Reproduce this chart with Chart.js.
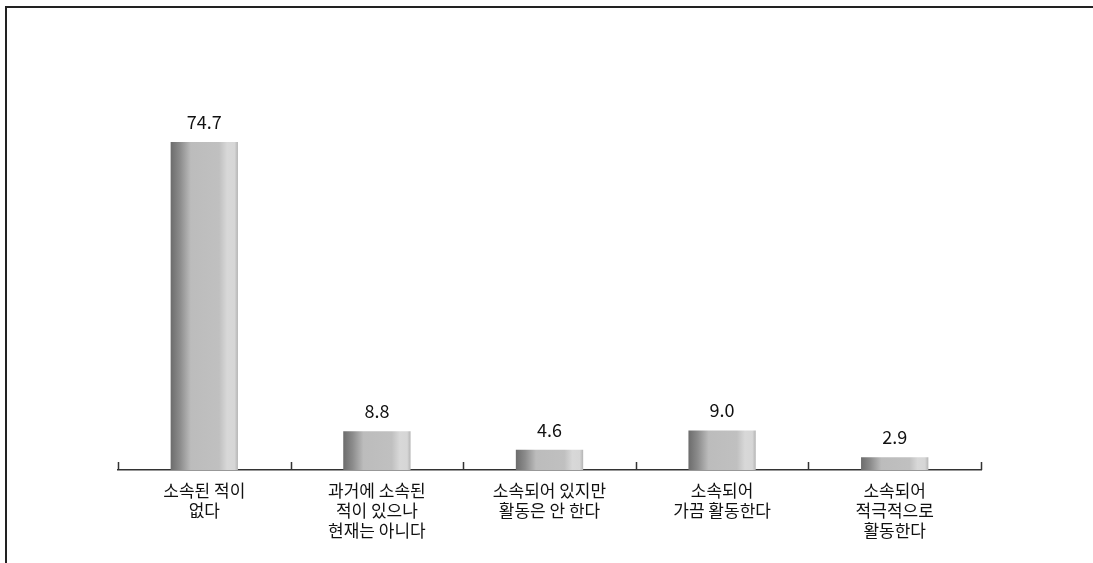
<!DOCTYPE html>
<html>
<head>
<meta charset="utf-8">
<script src="https://cdn.jsdelivr.net/npm/chart.js@4"></script>
<style>
	html, body { margin: 0; padding: 0; background: #fff; }
	#wrap { position: relative; width: 1093px; height: 563px; }
	#frame { position: absolute; left: 5px; top: 6px; right: 0; bottom: 0; border-left: 2px solid #222; border-top: 2px solid #222; pointer-events: none; }
</style>
</head>
<body>
<div id="wrap">
	<canvas id="chart" width="1093" height="563"></canvas>
	<div id="frame"></div>
</div>
<script>
// categories (multi-line labels) and values, %
const categories = [
	['소속된 적이', '없다'],
	['과거에 소속된', '적이 있으나', '현재는 아니다'],
	['소속되어 있지만', '활동은 안 한다'],
	['소속되어', '가끔 활동한다'],
	['소속되어', '적극적으로', '활동한다']
];
const values = [74.7, 8.8, 4.6, 9.0, 2.9];

const FONT = '"Noto Sans CJK KR", "Noto Sans", sans-serif';
const BAR_PCT = 0.39;

function barGradient(context) {
	const chart = context.chart;
	const x = chart.scales.x;
	if (!x || !chart.chartArea) return '#bdbdbd';
	const cx = x.getPixelForValue(context.dataIndex);
	const w = x.width / categories.length * BAR_PCT;
	const g = chart.ctx.createLinearGradient(cx - w / 2, 0, cx + w / 2, 0);
	g.addColorStop(0, '#6c6c6c');
	g.addColorStop(0.14, '#8c8c8c');
	g.addColorStop(0.3, '#bcbcbc');
	g.addColorStop(0.72, '#c0c0c0');
	g.addColorStop(0.84, '#d8d8d8');
	g.addColorStop(0.95, '#d6d6d6');
	g.addColorStop(1, '#b4b4b4');
	return g;
}

// small ticks above the axis at category boundaries
const boundaryTicks = {
	id: 'boundaryTicks',
	afterDraw(chart) {
		const x = chart.scales.x;
		const ctx = chart.ctx;
		const y = chart.chartArea.bottom;
		const step = x.width / categories.length;
		ctx.save();
		ctx.strokeStyle = '#333';
		ctx.lineWidth = 1.5;
		ctx.beginPath();
		for (let i = 0; i <= categories.length; i++) {
			const px = Math.round(x.left + step * i) + 0.5;
			ctx.moveTo(px, y - 8);
			ctx.lineTo(px, y);
		}
		ctx.stroke();
		ctx.restore();
	}
};

// value labels above bars
const valueLabels = {
	id: 'valueLabels',
	afterDatasetsDraw(chart) {
		const ctx = chart.ctx;
		const meta = chart.getDatasetMeta(0);
		ctx.save();
		ctx.fillStyle = '#111';
		ctx.font = '18px ' + FONT;
		ctx.textAlign = 'center';
		ctx.textBaseline = 'alphabetic';
		meta.data.forEach(function(bar, i) {
			ctx.fillText(values[i].toFixed(1), bar.x, bar.y - 13);
		});
		ctx.restore();
	}
};

new Chart(document.getElementById('chart').getContext('2d'), {
	type: 'bar',
	data: {
		labels: categories,
		datasets: [{
			data: values,
			backgroundColor: barGradient,
			borderWidth: 0,
			barPercentage: BAR_PCT,
			categoryPercentage: 1
		}]
	},
	options: {
		responsive: false,
		animation: false,
		layout: { padding: { top: 31, left: 118, right: 112, bottom: 0 } },
		plugins: { legend: { display: false }, tooltip: { enabled: false } },
		scales: {
			y: { display: false, min: 0, max: 100 },
			x: {
				grid: { display: false },
				border: { display: true, color: '#333', width: 1.5 },
				ticks: {
					color: '#111',
					padding: 3,
					maxRotation: 0,
					autoSkip: false,
					font: { family: FONT, size: 17, lineHeight: '20px' }
				},
				afterFit(scale) { scale.height = 93; }
			}
		}
	},
	plugins: [boundaryTicks, valueLabels]
});
</script>
</body>
</html>
